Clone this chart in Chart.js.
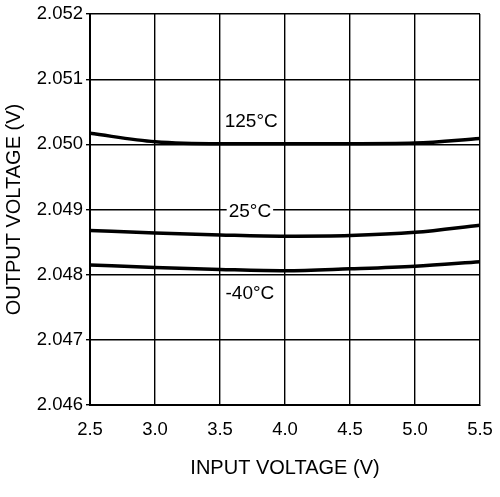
<!DOCTYPE html>
<html lang="en">
<head>
  <meta charset="UTF-8" />
  <title>Output Voltage vs Input Voltage</title>
  <script src="https://cdn.jsdelivr.net/npm/chart.js"></script>
  <style>
    body {
      margin: 0;
      background: #fff;
    }

    .wrap {
      width: 500px;
      height: 497px;
    }
  </style>
</head>
<body>
  <div class="wrap">
    <canvas id="chart"></canvas>
  </div>

  <script>
    const inputVoltage = [2.5, 3.0, 3.5, 4.0, 4.5, 5.0, 5.5];
    const out125 = [2.05017, 2.05004, 2.05001, 2.05001, 2.05001, 2.05002, 2.05009];
    const out25 = [2.04868, 2.04864, 2.04861, 2.04859, 2.0486, 2.04865, 2.04876];
    const outM40 = [2.04815, 2.04811, 2.04808, 2.04806, 2.04809, 2.04813, 2.0482];
    const curveLabels = [
      { text: '125°C', x: 3.74, y: 2.05034, boxed: false },
      { text: '25°C', x: 3.73, y: 2.04897, boxed: true },
      { text: '-40°C', x: 3.73, y: 2.04771, boxed: false }
    ];

    const font = 'Liberation Sans, Arial, sans-serif';

    function series(values) {
      return {
        data: inputVoltage.map((v, i) => ({ x: v, y: values[i] })),
        borderColor: '#000',
        borderWidth: 3.5,
        pointRadius: 0,
        cubicInterpolationMode: 'monotone',
        fill: false
      };
    }

    // curve names, placed in data units
    const labelPlugin = {
      id: 'curveLabels',
      afterDatasetsDraw(chart) {
        const { ctx, scales } = chart;
        ctx.save();
        ctx.font = '19px ' + font;
        ctx.textAlign = 'center';
        ctx.textBaseline = 'middle';
        curveLabels.forEach(l => {
          const px = scales.x.getPixelForValue(l.x);
          const py = scales.y.getPixelForValue(l.y);
          if (l.boxed) {
            const w = ctx.measureText(l.text).width + 4;
            ctx.fillStyle = '#fff';
            ctx.fillRect(px - w / 2, py - 9, w, 18);
          }
          ctx.fillStyle = '#000';
          ctx.fillText(l.text, px, py);
        });
        ctx.restore();
      }
    };

    new Chart(document.getElementById('chart'), {
      type: 'line',
      data: {
        datasets: [series(out125), series(out25), series(outM40)]
      },
      options: {
        responsive: true,
        maintainAspectRatio: false,
        animation: false,
        layout: { padding: { top: 14, right: 20, left: 0, bottom: 0 } },
        plugins: {
          legend: { display: false },
          tooltip: { enabled: false }
        },
        scales: {
          x: {
            type: 'linear',
            min: 2.5,
            max: 5.5,
            afterFit(scale) {
              scale.height = 92;
              scale.paddingLeft = 0;
              scale.paddingRight = 0;
            },
            ticks: {
              stepSize: 0.5,
              color: '#000',
              font: { family: font, size: 18.5 },
              padding: 14,
              callback: v => v.toFixed(1)
            },
            grid: { color: '#000', lineWidth: 1.4, tickLength: 0 },
            border: { color: '#000', width: 2 },
            title: {
              display: true,
              text: 'INPUT VOLTAGE (V)',
              color: '#000',
              font: { family: font, size: 20 },
              padding: { top: 0, bottom: 17 }
            }
          },
          y: {
            min: 2.046,
            max: 2.052,
            afterFit(scale) { scale.width = 90; },
            ticks: {
              stepSize: 0.001,
              color: '#000',
              font: { family: font, size: 18.5 },
              padding: 3,
              callback: v => v.toFixed(3)
            },
            grid: { color: '#000', lineWidth: 1.4, tickLength: 4 },
            border: { color: '#000', width: 2 },
            title: {
              display: true,
              text: 'OUTPUT VOLTAGE (V)',
              color: '#000',
              font: { family: font, size: 20 },
              padding: 2
            }
          }
        }
      },
      plugins: [labelPlugin]
    });
  </script>
</body>
</html>
